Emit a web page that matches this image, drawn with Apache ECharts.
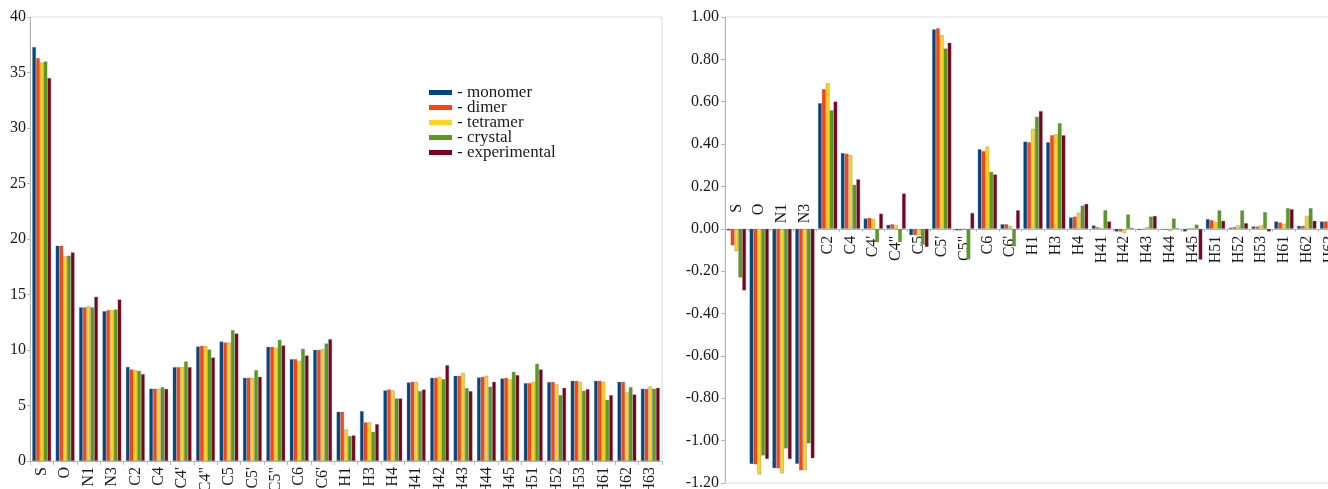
<!DOCTYPE html>
<html>
<head>
<meta charset="utf-8">
<title>Atomic shielding and charges</title>
<script src="https://cdn.jsdelivr.net/npm/echarts@6/dist/echarts.min.js"></script>
<style>
  html, body { margin: 0; padding: 0; background: #ffffff; }
  #chart { width: 1328px; height: 489px; }
</style>
</head>
<body>
<div id="chart"></div>
<script>
// Atom labels shared by both panels
const atoms = ['S', 'O', 'N1', 'N3', 'C2', 'C4', "C4'", 'C4"', 'C5', "C5'", 'C5"', 'C6', "C6'",
  'H1', 'H3', 'H4', 'H41', 'H42', 'H43', 'H44', 'H45', 'H51', 'H52', 'H53', 'H61', 'H62', 'H63'];

const seriesNames = ['monomer', 'dimer', 'tetramer', 'crystal', 'experimental'];

// Left panel values
const monomerL = [37.3, 19.4, 13.85, 13.5, 8.48, 6.52, 8.46, 10.32, 10.77, 7.5, 10.29, 9.18, 10.02,
  4.44, 4.5, 6.36, 7.08, 7.5, 7.68, 7.53, 7.44, 7.02, 7.11, 7.23, 7.23, 7.14, 6.51];
const dimerL = [36.3, 19.4, 13.85, 13.6, 8.25, 6.52, 8.46, 10.38, 10.68, 7.5, 10.29, 9.18, 10.02,
  4.44, 3.48, 6.45, 7.14, 7.5, 7.68, 7.59, 7.5, 7.02, 7.14, 7.23, 7.23, 7.14, 6.51];
const tetramerL = [35.9, 18.45, 13.95, 13.6, 8.19, 6.52, 8.46, 10.38, 10.68, 7.5, 10.2, 9.03, 10.08,
  2.85, 3.48, 6.36, 7.14, 7.59, 7.95, 7.68, 7.35, 7.14, 6.93, 7.14, 7.14, 6.21, 6.72];
const crystalL = [36.0, 18.5, 13.85, 13.65, 8.13, 6.66, 8.97, 10.05, 11.79, 8.19, 10.92, 10.11, 10.59,
  2.25, 2.64, 5.64, 6.3, 7.38, 6.57, 6.69, 8.04, 8.76, 5.94, 6.33, 5.52, 6.66, 6.51];
const experimentalL = [34.5, 18.8, 14.8, 14.55, 7.83, 6.5, 8.46, 9.33, 11.49, 7.59, 10.41, 9.51, 10.98,
  2.31, 3.33, 5.64, 6.45, 8.64, 6.3, 7.14, 7.74, 8.25, 6.6, 6.48, 5.94, 6.0, 6.6];

// Right panel values
const monomerR = [-0.008, -1.11, -1.13, -1.11, 0.593, 0.358, 0.049, 0.019, -0.03, 0.942, -0.008, 0.376, 0.022,
  0.412, 0.409, 0.054, 0.016, -0.013, -0.006, -0.003, -0.013, 0.046, 0.006, 0.011, 0.035, 0.014, 0.035];
const dimerR = [-0.078, -1.112, -1.131, -1.14, 0.66, 0.355, 0.052, 0.022, -0.03, 0.947, -0.008, 0.367, 0.022,
  0.409, 0.442, 0.058, 0.008, -0.013, -0.003, -0.005, 0.0, 0.041, 0.009, 0.011, 0.03, 0.014, 0.035];
const tetramerR = [-0.106, -1.16, -1.155, -1.14, 0.687, 0.349, 0.047, 0.017, -0.03, 0.915, -0.003, 0.389, 0.014,
  0.472, 0.447, 0.076, 0.002, -0.02, 0.008, -0.011, 0.0, 0.033, 0.016, 0.016, 0.024, 0.061, 0.04];
const crystalR = [-0.23, -1.07, -1.037, -1.013, 0.56, 0.208, -0.063, -0.063, -0.075, 0.851, -0.145, 0.269, -0.083,
  0.529, 0.499, 0.11, 0.088, 0.068, 0.058, 0.049, 0.02, 0.087, 0.087, 0.079, 0.098, 0.098, 0.03];
const experimentalR = [-0.291, -1.087, -1.087, -1.083, 0.601, 0.234, 0.072, 0.167, -0.086, 0.879, 0.075, 0.257, 0.088,
  0.556, 0.442, 0.118, 0.035, 0.005, 0.061, 0.003, -0.146, 0.038, 0.027, -0.013, 0.093, 0.038, 0.035];

const leftValues = [monomerL, dimerL, tetramerL, crystalL, experimentalL];
const rightValues = [monomerR, dimerR, tetramerR, crystalR, experimentalR];

const palette = ['#004586', '#ff420e', '#ffd320', '#579d1c', '#7e0021'];
const serif = "'Liberation Serif', 'DejaVu Serif', serif";
const textColor = '#1a1a1a';
const axisGray = '#b8b8b8';
const frameGray = '#dedede';

// Right panel geometry: the value range and where zero falls in it
const rightTop = 17, rightHeight = 466, rightMin = -1.2, rightMax = 1.0;
const zeroY = rightTop + rightHeight * rightMax / (rightMax - rightMin);
// labels of atoms with negative bars hang just above the zero line
const upperLabelLine = zeroY - 26;

function barSeries(values, xIdx, yIdx, catGap) {
  return values.map((data, i) => ({
    name: seriesNames[i],
    type: 'bar',
    xAxisIndex: xIdx,
    yAxisIndex: yIdx,
    data: data,
    barGap: '0%',
    barCategoryGap: catGap,
    itemStyle: { color: palette[i], borderColor: 'rgba(110,110,110,0.55)', borderWidth: 0.6 },
    emphasis: { disabled: true },
    animation: false
  }));
}

const chart = echarts.init(document.getElementById('chart'), null, { renderer: 'canvas' });

const hiddenValueAxis = (gridIndex) => ({
  type: 'value', gridIndex, min: 0, max: 1, show: false
});

chart.setOption({
  backgroundColor: '#ffffff',
  animation: false,
  textStyle: { fontFamily: serif },
  legend: {
    data: seriesNames,
    orient: 'vertical',
    left: 429,
    top: 84,
    padding: 0,
    icon: 'rect',
    itemWidth: 23,
    itemHeight: 5,
    itemGap: -2,
    itemStyle: { borderWidth: 0 },
    formatter: '- {name}',
    textStyle: { fontFamily: serif, fontSize: 17, lineHeight: 15, color: textColor },
    selectedMode: false
  },
  grid: [
    { left: 30, top: 17, width: 632, height: 444, show: true, borderColor: frameGray, borderWidth: 1,
      outerBoundsMode: 'none', containLabel: false },
    { left: 725, top: rightTop, width: 616, height: rightHeight, show: true, borderColor: frameGray, borderWidth: 1,
      outerBoundsMode: 'none', containLabel: false },
    // band ending at the zero line: its lower edge carries the atom labels
    { left: 725, top: rightTop, width: 616, height: zeroY - rightTop, show: false,
      outerBoundsMode: 'none', containLabel: false },
    // band ending a little above the zero line, for the labels of negative groups
    { left: 725, top: rightTop, width: 616, height: upperLabelLine - rightTop, show: false,
      outerBoundsMode: 'none', containLabel: false }
  ],
  xAxis: [
    {
      type: 'category', gridIndex: 0, data: atoms, position: 'bottom',
      axisLine: { lineStyle: { color: axisGray } },
      axisTick: { show: true, length: 4, lineStyle: { color: axisGray } },
      axisLabel: { interval: 0, rotate: 90, margin: 6, fontFamily: serif, fontSize: 16, color: textColor }
    },
    {
      type: 'category', gridIndex: 1, data: atoms, position: 'bottom',
      axisLine: { show: false, onZero: false },
      axisTick: { show: false },
      axisLabel: { show: false }
    },
    {
      type: 'category', gridIndex: 2, data: atoms, position: 'bottom',
      axisLine: { show: true, onZero: false, lineStyle: { color: axisGray } },
      axisTick: { show: true, length: 3, lineStyle: { color: axisGray } },
      axisLabel: {
        interval: 0, rotate: 90, margin: 7, fontFamily: serif, fontSize: 16, color: textColor,
        formatter: (v, i) => (i < 4 ? '' : v)
      }
    },
    {
      type: 'category', gridIndex: 3, data: atoms, position: 'bottom',
      axisLine: { show: false, onZero: false },
      axisTick: { show: false },
      axisLabel: {
        interval: 0, rotate: 90, margin: 1, fontFamily: serif, fontSize: 16, color: textColor,
        formatter: (v, i) => (i < 4 ? v : '')
      }
    }
  ],
  yAxis: [
    {
      type: 'value', gridIndex: 0, min: 0, max: 40, interval: 5,
      splitLine: { show: false },
      axisLine: { show: true, lineStyle: { color: axisGray } },
      axisTick: { show: true, length: 3, lineStyle: { color: axisGray } },
      axisLabel: { margin: 4, fontFamily: serif, fontSize: 16, color: textColor }
    },
    {
      type: 'value', gridIndex: 1, min: rightMin, max: rightMax, interval: 0.2,
      splitLine: { show: false },
      axisLine: { show: true, onZero: false, lineStyle: { color: axisGray } },
      axisTick: { show: true, length: 4, lineStyle: { color: axisGray } },
      axisLabel: { margin: 6, fontFamily: serif, fontSize: 16, color: textColor,
        formatter: v => v.toFixed(2) }
    },
    hiddenValueAxis(2),
    hiddenValueAxis(3)
  ],
  series: [].concat(
    barSeries(leftValues, 0, 0, '19%'),
    barSeries(rightValues, 1, 1, '15%')
  )
});
</script>
</body>
</html>
